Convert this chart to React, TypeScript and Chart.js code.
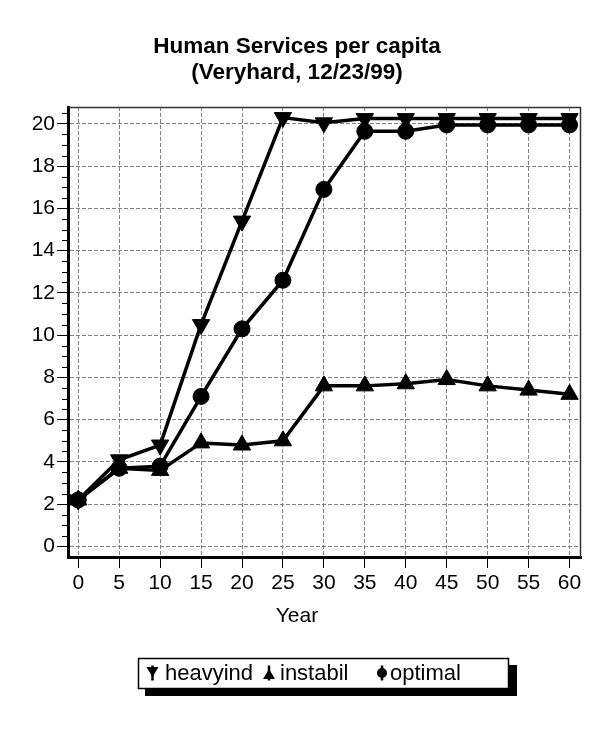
import React, { useEffect, useRef } from "react";
import { Chart, registerables } from "chart.js";

Chart.register(...registerables);

// ---- data ----
const years = [0, 5, 10, 15, 20, 25, 30, 35, 40, 45, 50, 55, 60];
const heavyind = [2.2, 4.1, 4.8, 10.5, 15.4, 20.3, 20.05, 20.25, 20.25, 20.25, 20.25, 20.25, 20.25];
const instabil = [2.2, 3.7, 3.6, 4.9, 4.8, 5.0, 7.6, 7.6, 7.7, 7.9, 7.6, 7.4, 7.2];
const optimal = [2.2, 3.7, 3.8, 7.1, 10.3, 12.6, 16.9, 19.65, 19.65, 19.95, 19.95, 19.95, 19.95];
const yTickValues = [0, 2, 4, 6, 8, 10, 12, 14, 16, 18, 20];
const seriesNames = ["heavyind", "instabil", "optimal"];
const titleLines = ["Human Services per capita", "(Veryhard, 12/23/99)"];
const xAxisTitle = "Year";

const FONT = '"Liberation Sans", Arial, Helvetica, sans-serif';

function drawIcon(ctx: CanvasRenderingContext2D, kind: number, cx: number, cy: number) {
  ctx.save();
  ctx.fillStyle = "#000";
  ctx.strokeStyle = "#000";
  ctx.lineWidth = 2.5;
  ctx.beginPath();
  ctx.moveTo(cx, cy - 7.5);
  ctx.lineTo(cx, cy + 7.5);
  ctx.stroke();
  ctx.beginPath();
  if (kind === 0) {
    ctx.moveTo(cx - 6, cy - 6);
    ctx.lineTo(cx + 6, cy - 6);
    ctx.lineTo(cx, cy + 4);
    ctx.closePath();
  } else if (kind === 1) {
    ctx.moveTo(cx - 6, cy + 6);
    ctx.lineTo(cx + 6, cy + 6);
    ctx.lineTo(cx, cy - 4);
    ctx.closePath();
  } else {
    ctx.arc(cx, cy, 5, 0, Math.PI * 2);
  }
  ctx.fill();
  ctx.restore();
}

const decorPlugin = {
  id: "decor",
  beforeDraw(chart: any) {
    const ctx = chart.ctx;
    ctx.save();
    ctx.fillStyle = "#fff";
    ctx.fillRect(0, 0, chart.width, chart.height);
    ctx.restore();
  },
  afterDraw(chart: any) {
    const ctx: CanvasRenderingContext2D = chart.ctx;
    const ca = chart.chartArea;
    const ys = chart.scales.y;
    ctx.save();
    // thin frame on top and right
    ctx.strokeStyle = "#333";
    ctx.lineWidth = 1.5;
    ctx.beginPath();
    ctx.moveTo(ca.left, ca.top + 0.5);
    ctx.lineTo(ca.right - 0.5, ca.top + 0.5);
    ctx.lineTo(ca.right - 0.5, ca.bottom);
    ctx.stroke();
    // minor ticks on y axis
    ctx.strokeStyle = "#000";
    ctx.lineWidth = 1;
    for (let i = 1; i <= 41; i++) {
      const v = i * 0.5;
      if (i % 4 === 0) continue;
      const py = Math.round(ys.getPixelForValue(v)) + 0.5;
      ctx.beginPath();
      ctx.moveTo(ca.left - 6, py);
      ctx.lineTo(ca.left, py);
      ctx.stroke();
    }
    // title
    ctx.fillStyle = "#000";
    ctx.textAlign = "center";
    ctx.textBaseline = "middle";
    ctx.font = `bold 22.5px ${FONT}`;
    ctx.fillText(titleLines[0], 297, 47);
    ctx.fillText(titleLines[1], 297, 73);
    // x axis title
    ctx.font = `21px ${FONT}`;
    ctx.fillText(xAxisTitle, 297, 616);
    // legend box with shadow
    ctx.fillStyle = "#000";
    ctx.fillRect(145, 665, 372, 31);
    ctx.fillStyle = "#fff";
    ctx.fillRect(138, 658, 371, 31);
    ctx.strokeStyle = "#000";
    ctx.lineWidth = 1.5;
    ctx.strokeRect(138.5, 658.5, 370, 30);
    const iconX = [152.5, 269, 382];
    const textX = [165, 280, 390];
    ctx.font = `22px ${FONT}`;
    ctx.textAlign = "left";
    chart.data.datasets.forEach((ds: any, i: number) => {
      drawIcon(ctx, i, iconX[i], 673);
      ctx.fillStyle = "#000";
      ctx.fillText(ds.label, textX[i], 674);
    });
    ctx.restore();
  },
};

export default function App() {
  const ref = useRef<HTMLCanvasElement | null>(null);
  useEffect(() => {
    if (!ref.current) return;
    const mk = (vals: number[]) => years.map((x, i) => ({ x, y: vals[i] }));
    const common = {
      borderColor: "#000",
      backgroundColor: "#000",
      pointBackgroundColor: "#000",
      pointBorderColor: "#000",
      pointBorderWidth: 1,
      borderWidth: 3.5,
      tension: 0,
      fill: false,
      clip: 12,
    };
    const chart = new Chart(ref.current, {
      type: "line",
      data: {
        datasets: [
          { ...common, label: seriesNames[0], data: mk(heavyind), pointStyle: "triangle", rotation: 180, pointRadius: 10 },
          { ...common, label: seriesNames[1], data: mk(instabil), pointStyle: "triangle", pointRadius: 10 },
          { ...common, label: seriesNames[2], data: mk(optimal), pointStyle: "circle", pointRadius: 8 },
        ],
      },
      options: {
        responsive: false,
        animation: false,
        events: [],
        layout: { padding: { top: 107, right: 10, left: 0, bottom: 0 } },
        plugins: { legend: { display: false }, tooltip: { enabled: false }, title: { display: false } },
        scales: {
          x: {
            type: "linear",
            min: -1.25,
            max: 61.4,
            afterBuildTicks: (s: any) => {
              s.ticks = years.map((v) => ({ value: v }));
            },
            afterFit: (s: any) => {
              s.height = 173;
            },
            grid: { color: "#808080", lineWidth: 1, tickLength: 11, tickColor: "#000", tickWidth: 1, tickBorderDash: [] },
            border: { display: true, color: "#000", width: 3, dash: [4, 2] },
            ticks: { color: "#000", font: { family: FONT, size: 21 }, padding: 3, maxRotation: 0, autoSkip: false },
          },
          y: {
            type: "linear",
            min: -0.5,
            max: 20.8,
            afterBuildTicks: (s: any) => {
              s.ticks = yTickValues.map((v) => ({ value: v }));
            },
            afterFit: (s: any) => {
              s.width = 68;
            },
            grid: { color: "#808080", lineWidth: 1, tickLength: 11, tickColor: "#000", tickWidth: 1, tickBorderDash: [] },
            border: { display: true, color: "#000", width: 3, dash: [4, 2] },
            ticks: { color: "#000", font: { family: FONT, size: 21 }, padding: 2, autoSkip: false },
          },
        },
      },
      plugins: [decorPlugin],
    } as any);
    return () => chart.destroy();
  }, []);
  return (
    <div style={{ position: "fixed", left: 0, top: 0, width: 592, height: 730, background: "#fff" }}>
      <canvas ref={ref} width={592} height={730} style={{ display: "block", width: 592, height: 730 }} />
    </div>
  );
}
